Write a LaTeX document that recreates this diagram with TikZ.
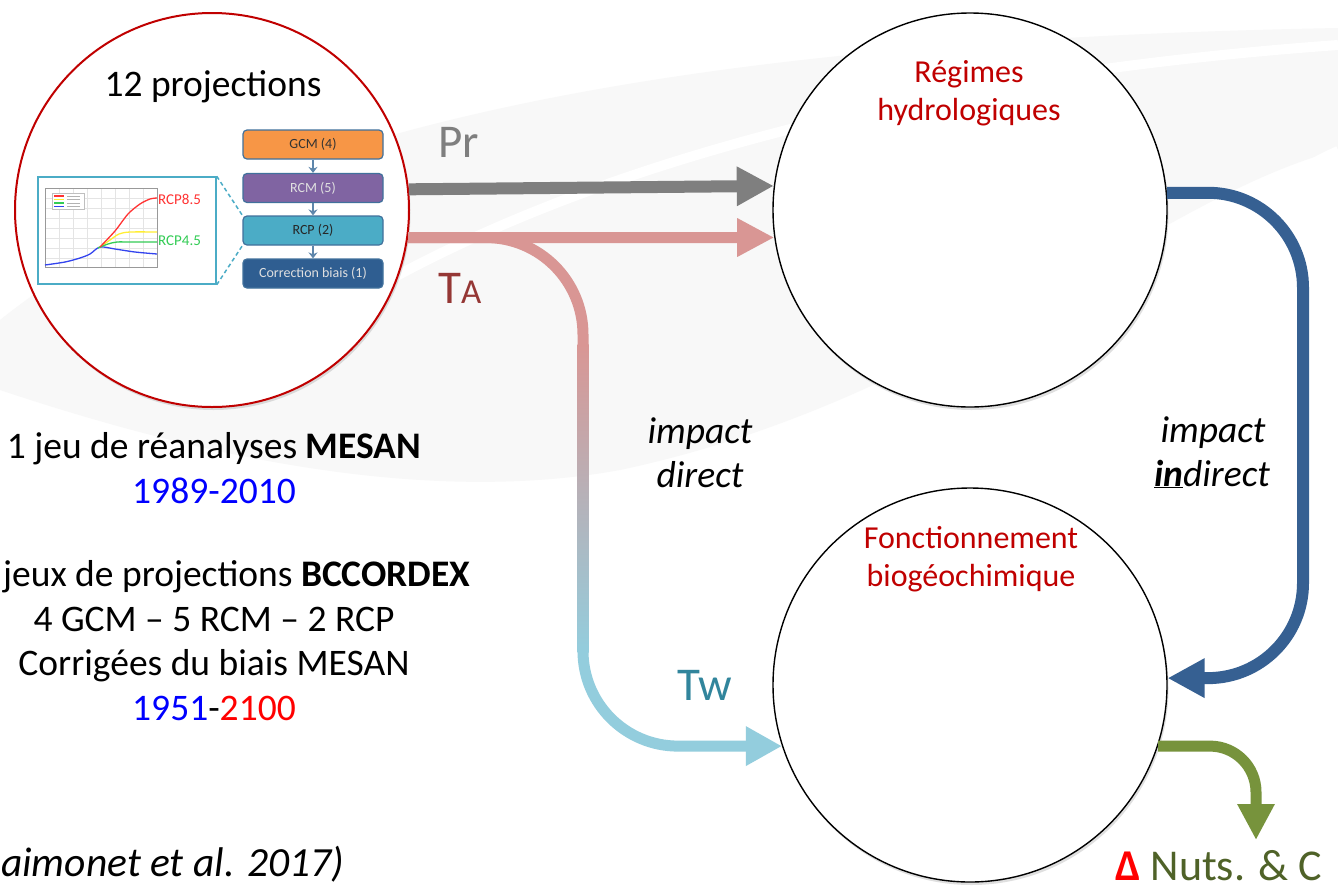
\documentclass[tikz,border=0pt]{standalone}
\usepackage{fontspec}
\setmainfont{Carlito}
\usetikzlibrary{arrows.meta,positioning,shadows}
\definecolor{projred}{HTML}{C00000}
\definecolor{prgray}{HTML}{7F7F7F}
\definecolor{tapink}{HTML}{D99694}
\definecolor{tadark}{HTML}{953735}
\definecolor{twblue}{HTML}{93CDDD}
\definecolor{twdark}{HTML}{31859C}
\definecolor{indblue}{HTML}{366092}
\definecolor{nutgreen}{HTML}{77933C}
\definecolor{nutdark}{HTML}{4F6228}
\definecolor{gcmorange}{HTML}{F79646}
\definecolor{rcmpurple}{HTML}{8064A2}
\definecolor{rcpteal}{HTML}{4BACC6}
\definecolor{corrblue}{HTML}{2F5E91}
\definecolor{boxedge}{HTML}{41719C}
\definecolor{yearblue}{HTML}{0000FF}
\definecolor{yearred}{HTML}{FF0000}
\definecolor{swooshgray}{HTML}{F8F8F8}
\definecolor{gridgray}{HTML}{E4E4E4}
\definecolor{rcphigh}{HTML}{FF3333}
\definecolor{rcpmid}{HTML}{FFEE33}
\definecolor{rcplow}{HTML}{33CC55}
\definecolor{rcpblue}{HTML}{3344EE}
\newcommand{\bigtext}{\fontsize{37.5}{44}\selectfont}
\newcommand{\circtext}{\fontsize{32}{38}\selectfont}
\newcommand{\vartext}{\fontsize{47}{52}\selectfont}

\begin{document}
\begin{tikzpicture}[x=1pt,y=-1pt,
    bigcirc/.style={circle,draw=black,line width=1.4pt,fill=white,minimum size=394pt,inner sep=0pt,
        drop shadow={opacity=0.25,shadow xshift=1.5pt,shadow yshift=-3pt}},
    flowbox/.style={draw=boxedge,line width=1.2pt,rounded corners=4pt,minimum width=140pt,
        minimum height=29pt,inner sep=0pt,font=\fontsize{14}{16}\selectfont},
    flowarrow/.style={draw=boxedge!85!white,line width=1.6pt,-{Stealth[length=6pt,width=9pt]}},
    lbl/.style={inner sep=0pt},
    gridline/.style={gridgray,line width=0.4pt},
    curve/.style={line width=1.3pt,smooth}]
    \fill[white] (0,0) rectangle (1338,892);
    \useasboundingbox (0,0) rectangle (1338,892);
    \fill[swooshgray] (0,320) .. controls (250,120) and (700,40) .. (1338,28) -- (1338,150)
        .. controls (1150,200) and (950,400) .. (620,470) .. controls (400,510) and (150,440) .. (0,390) -- cycle;
    \draw[white,line width=10pt] (380,285) .. controls (550,190) and (850,80) .. (1338,45);
    \draw[white,line width=8pt] (1150,265) .. controls (1230,220) and (1290,170) .. (1338,150);

    \node[bigcirc,draw=projred,line width=2pt] (proj) at (212,210) {};
    \node[bigcirc] (hydro) at (970,210) {};
    \node[bigcirc] (bio) at (970,685) {};

    \node[lbl,anchor=base,font=\bigtext] (title) at (213,96) {12 projections};
    \node[flowbox,fill=gcmorange,text=black!80] (gcm) at (313,144.5) {GCM (4)};
    \node[flowbox,fill=rcmpurple,text=white!88!black] (rcm) at (313,188) {RCM (5)};
    \node[flowbox,fill=rcpteal,text=black!85] (rcp) at (313,230.5) {RCP (2)};
    \node[flowbox,fill=corrblue,text=white!88!black] (corr) at (313,273.5) {Correction biais (1)};
    \draw[flowarrow] (gcm) -- (rcm);
    \draw[flowarrow] (rcm) -- (rcp);
    \draw[flowarrow] (rcp) -- (corr);

    \node[draw=rcpteal,line width=1.5pt,fill=white,minimum width=178pt,minimum height=107pt,inner sep=0pt] (chart) at (127,230.5) {};
    \draw[rcpteal,line width=1.5pt,dash pattern=on 4pt off 3pt] (chart.north east) -- (rcp.north west);
    \draw[rcpteal,line width=1.5pt,dash pattern=on 4pt off 3pt] (chart.south east) -- (rcp.south west);
    \foreach \gx in {45,59,73,87,101,115,129,143,157}
        \draw[gridline] (\gx,188) -- (\gx,267);
    \foreach \gy in {188,198,208,218,228,238,248,258,267}
        \draw[gridline] (45,\gy) -- (157,\gy);
    \draw[gray!80,line width=0.5pt] (45,188) rectangle (157,267);
    \draw[gray!50,line width=0.4pt,fill=white] (52,193) rectangle (84,209);
    \draw[rcphigh,line width=1.3pt] (54,196) -- (64,196);
    \draw[rcpmid,line width=1.3pt] (54,199.5) -- (64,199.5);
    \draw[rcplow,line width=1.3pt] (54,203) -- (64,203);
    \draw[rcpblue,line width=1.3pt] (54,206.5) -- (64,206.5);
    \foreach \ly in {196,199.5,203,206.5}
        \draw[gray!60,line width=0.6pt] (67,\ly) -- (80,\ly);
    \draw[curve,rcpblue] plot coordinates {(45,265) (65,262) (80,258) (90,254) (100,247) (115,249) (135,252) (157,254)};
    \draw[curve,rcpmid] plot coordinates {(100,247) (110,240) (119,234) (130,232) (157,232)};
    \draw[curve,rcplow] plot coordinates {(98,248) (108,244) (117,242) (130,242) (157,242)};
    \draw[curve,rcphigh] plot coordinates {(100,247) (115,231) (128,214) (140,204) (150,199) (157,198)};
    \node[lbl,anchor=west,text=rcphigh,font=\fontsize{15}{17}\selectfont] (lblhigh) at (158,199) {RCP8.5};
    \node[lbl,anchor=west,text=rcplow,font=\fontsize{15}{17}\selectfont] (lbllow) at (158,241) {RCP4.5};

    \node[lbl,anchor=base,text=projred,font=\circtext] (hydroa) at (969,82) {Régimes};
    \node[lbl,anchor=base,text=projred,font=\circtext] (hydrob) at (969,120) {hydrologiques};
    \node[lbl,anchor=base,text=projred,font=\circtext] (bioa) at (971,548) {Fonctionnement};
    \node[lbl,anchor=base,text=projred,font=\circtext] (biob) at (971,586) {biogéochimique};

    \draw[prgray,line width=12pt,-{Triangle[length=37pt,width=37pt]}] (proj.6.7) -- (hydro.173.3);
    \draw[tapink,line width=11pt,rounded corners=97pt] (proj.-8.17) -| (583,345);
    \draw[tapink,line width=11pt,-{Triangle[length=37pt,width=36pt]}] (proj.-8.17) -- (hydro.188.1);
    \shade[top color=tapink,bottom color=twblue] (577.5,344) rectangle (588.5,652);
    \coordinate (twtop) at (583,650);
    \draw[twblue,line width=11pt,rounded corners=95pt,-{Triangle[length=36pt,width=37pt]}] (twtop) |- (bio.198.65);
    \coordinate (indmid) at (1303,430);
    \draw[indblue,line width=12pt,rounded corners=95pt,-{Triangle[length=37pt,width=37pt]}] (hydro.5.2) -| (indmid) |- (bio.2.04);
    \coordinate (nutsend) at (1256,840);
    \draw[nutgreen,line width=11pt,rounded corners=46pt,-{Triangle[length=36pt,width=35pt]}] (bio.-18.65) -| (nutsend);

    \node[lbl,anchor=base west,text=prgray,font=\vartext] (pr) at (438,157) {Pr};
    \node[lbl,anchor=base west,text=tadark] (ta) at (438,303) {\vartext T\fontsize{35}{40}\selectfont A};
    \node[lbl,anchor=base west,text=twdark,font=\vartext] (tw) at (677,700) {Tw};
    \node[lbl,anchor=base,font=\bigtext\itshape] (dira) at (700,443) {impact};
    \node[lbl,anchor=base,font=\bigtext\itshape] (dirb) at (700,487) {direct};
    \node[lbl,anchor=base,font=\bigtext\itshape] (inda) at (1213,442) {impact};
    \node[lbl,anchor=base,font=\bigtext\itshape] (indb) at (1212,486) {\underline{\textbf{in}}direct};
    \node[lbl,anchor=base west,text depth=0pt,font=\fontsize{44}{50}\selectfont] (nuts) at (1115,880) {\textcolor{yearred}{\textbf{Δ}} \textcolor{nutdark}{Nuts. \& C}};

    \node[lbl,anchor=base,font=\bigtext] (mesan) at (214,458) {1 jeu de réanalyses \textbf{MESAN}};
    \node[lbl,anchor=base,font=\bigtext,text=yearblue] (mesanyr) at (214,503) {1989-2010};
    \node[lbl,anchor=base west,font=\bigtext] (bccordex) at (3,586) {jeux de projections \textbf{BCCORDEX}};
    \node[lbl,anchor=base,font=\bigtext] (gcmline) at (214,631) {4 GCM -- 5 RCM -- 2 RCP};
    \node[lbl,anchor=base,font=\bigtext] (corrline) at (214,675) {Corrigées du biais MESAN};
    \node[lbl,anchor=base,font=\bigtext] (projyr) at (214,720) {\textcolor{yearblue}{1951}-\textcolor{yearred}{2100}};
    \node[lbl,anchor=base east,font=\fontsize{41.5}{48}\selectfont\itshape] (ref) at (344,876) {aimonet et al. 2017)};
\end{tikzpicture}
\end{document}
